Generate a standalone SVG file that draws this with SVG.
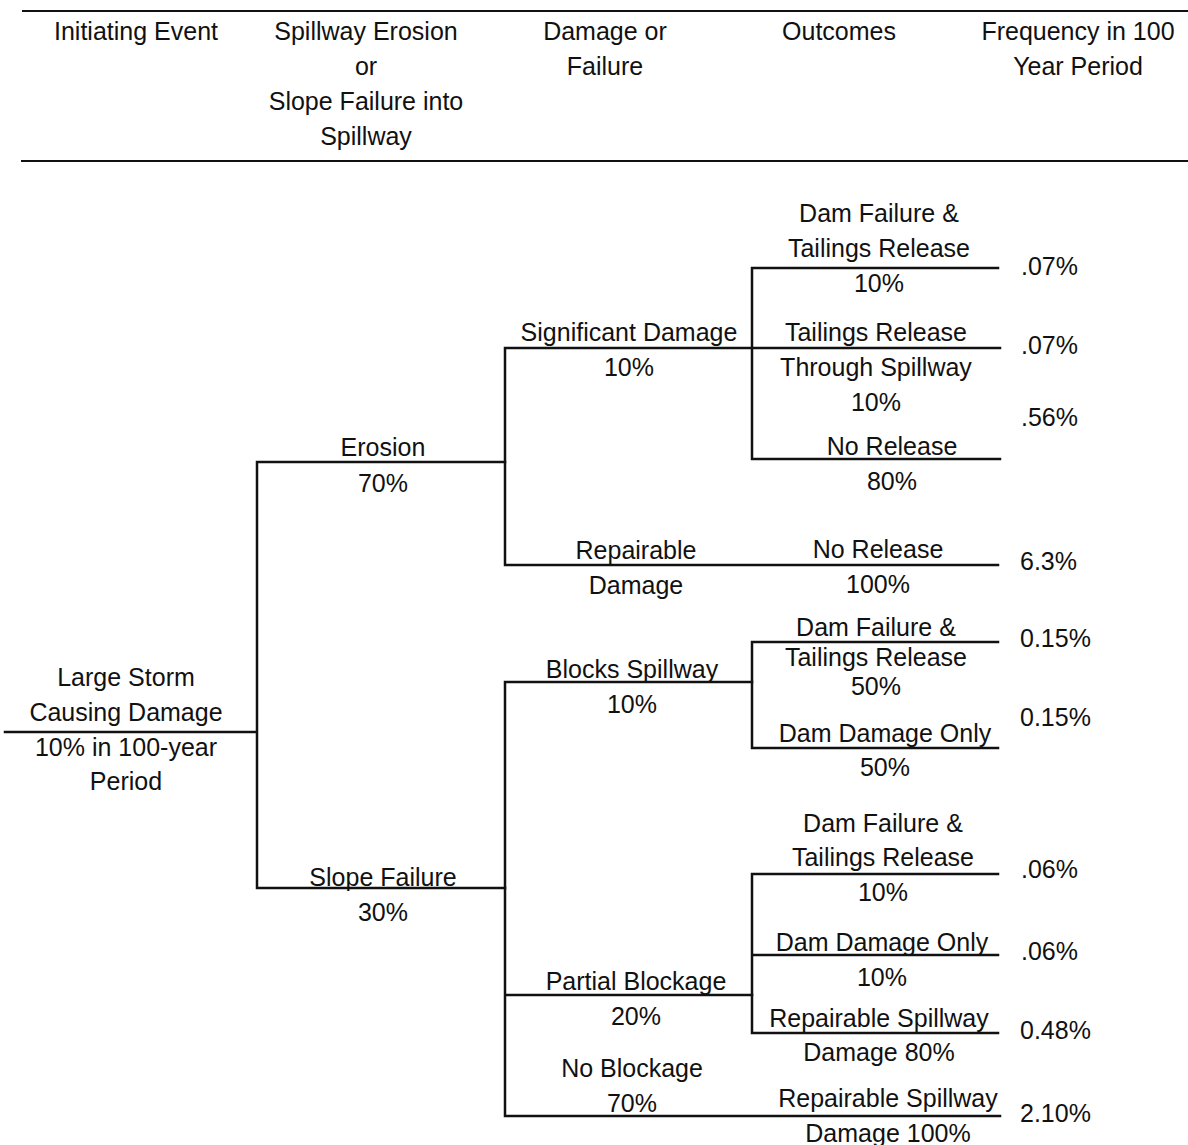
<svg xmlns="http://www.w3.org/2000/svg" width="1188" height="1145" viewBox="0 0 1188 1145">
<style>
text{font-family:"Liberation Sans",Arial,sans-serif;font-size:25px;fill:#111;text-anchor:middle}
.f{text-anchor:start}
.ln{stroke:#111;stroke-width:2.5;fill:none;stroke-linecap:square}
.rule{stroke:#111;stroke-width:2;fill:none}
</style>
<rect width="1188" height="1145" fill="#fff"/>
<g id="header">
<line class="rule" x1="22" y1="11" x2="1188" y2="11"/>
<line class="rule" x1="21" y1="161" x2="1188" y2="161"/>
<text x="136" y="40">Initiating Event</text>
<text x="366" y="40">Spillway Erosion</text>
<text x="366" y="75">or</text>
<text x="366" y="110">Slope Failure into</text>
<text x="366" y="145">Spillway</text>
<text x="605" y="40">Damage or</text>
<text x="605" y="75">Failure</text>
<text x="839" y="40">Outcomes</text>
<text x="1078" y="40">Frequency in 100</text>
<text x="1078" y="75">Year Period</text>
</g>
<g id="connectors">
<path class="ln" d="M5 732H257M257 462V888M257 462H505M257 888H505"/>
<path class="ln" d="M505 348V565M505 348H752M505 565H998"/>
<path class="ln" d="M752 268V459M752 268H998M752 348H1000M752 459H1000"/>
<path class="ln" d="M505 682V1116M505 682H752M505 995H752M505 1116H1000"/>
<path class="ln" d="M752 642V748M752 642H998M752 748H998"/>
<path class="ln" d="M752 874V1033M752 874H998M752 955H998M752 1033H998"/>
</g>
<g id="node-initiating">
<text x="126" y="686">Large Storm</text>
<text x="126" y="721">Causing Damage</text>
<text x="126" y="756">10% in 100-year</text>
<text x="126" y="790">Period</text>
</g>
<g id="node-erosion">
<text x="383" y="456">Erosion</text>
<text x="383" y="492">70%</text>
</g>
<g id="node-slope-failure">
<text x="383" y="886">Slope Failure</text>
<text x="383" y="921">30%</text>
</g>
<g id="node-significant-damage">
<text x="629" y="341">Significant Damage</text>
<text x="629" y="376">10%</text>
</g>
<g id="node-repairable-damage">
<text x="636" y="559">Repairable</text>
<text x="636" y="594">Damage</text>
</g>
<g id="node-sd-dam-failure">
<text x="879" y="222">Dam Failure &amp;</text>
<text x="879" y="257">Tailings Release</text>
<text x="879" y="292">10%</text>
<text class="f" x="1021" y="275">.07%</text>
</g>
<g id="node-sd-tailings-release">
<text x="876" y="341">Tailings Release</text>
<text x="876" y="376">Through Spillway</text>
<text x="876" y="411">10%</text>
<text class="f" x="1021" y="354">.07%</text>
</g>
<g id="node-sd-no-release">
<text x="892" y="455">No Release</text>
<text x="892" y="490">80%</text>
<text class="f" x="1021" y="426">.56%</text>
</g>
<g id="node-rd-no-release">
<text x="878" y="558">No Release</text>
<text x="878" y="593">100%</text>
<text class="f" x="1020" y="570">6.3%</text>
</g>
<g id="node-blocks-spillway">
<text x="632" y="678">Blocks Spillway</text>
<text x="632" y="713">10%</text>
</g>
<g id="node-bs-dam-failure">
<text x="876" y="636">Dam Failure &amp;</text>
<text x="876" y="666">Tailings Release</text>
<text x="876" y="695">50%</text>
<text class="f" x="1020" y="647">0.15%</text>
</g>
<g id="node-bs-dam-damage">
<text x="885" y="742">Dam Damage Only</text>
<text x="885" y="776">50%</text>
<text class="f" x="1020" y="726">0.15%</text>
</g>
<g id="node-partial-blockage">
<text x="636" y="990">Partial Blockage</text>
<text x="636" y="1025">20%</text>
</g>
<g id="node-pb-dam-failure">
<text x="883" y="832">Dam Failure &amp;</text>
<text x="883" y="866">Tailings Release</text>
<text x="883" y="901">10%</text>
<text class="f" x="1021" y="878">.06%</text>
</g>
<g id="node-pb-dam-damage">
<text x="882" y="951">Dam Damage Only</text>
<text x="882" y="986">10%</text>
<text class="f" x="1021" y="960">.06%</text>
</g>
<g id="node-pb-repairable">
<text x="879" y="1027">Repairable Spillway</text>
<text x="879" y="1061">Damage 80%</text>
<text class="f" x="1020" y="1039">0.48%</text>
</g>
<g id="node-no-blockage">
<text x="632" y="1077">No Blockage</text>
<text x="632" y="1112">70%</text>
</g>
<g id="node-nb-repairable">
<text x="888" y="1107">Repairable Spillway</text>
<text x="888" y="1142">Damage 100%</text>
<text class="f" x="1020" y="1122">2.10%</text>
</g>
</svg>
